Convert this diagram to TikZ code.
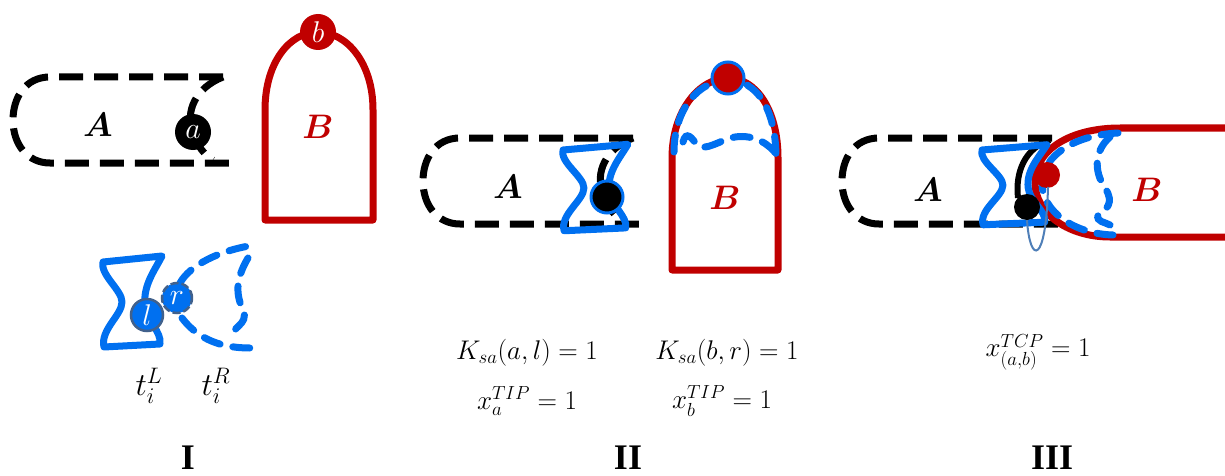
\RequirePackage{fix-cm}
\documentclass[tikz,border=0pt]{standalone}
\usepackage{fontspec}
\newfontfamily\numfont{Liberation Serif}
\usepackage{amsmath,bm}
\definecolor{myblue}{HTML}{0070F0}
\definecolor{myred}{HTML}{C00000}
\definecolor{ringblue}{HTML}{41618C}
\definecolor{loopblue}{HTML}{4F7FB8}
\tikzset{
  Adash/.style={draw=black, line width=7pt, dash pattern=on 24pt off 11pt},
  Bline/.style={draw=myred, line width=7pt, line join=round},
  blueline/.style={draw=myblue, line width=7pt, line join=round, line cap=round},
  bluedash/.style={draw=myblue, line width=7pt, dash pattern=on 17pt off 13pt, line cap=round},
  lbl/.style={font=\fontsize{34}{38}\selectfont},
  dot/.style={circle, inner sep=0pt, text=white, font=\fontsize{30}{32}\selectfont},
  formula/.style={font=\fontsize{27}{30}\selectfont},
  tlab/.style={font=\fontsize{32}{34}\selectfont},
  numeral/.style={font=\numfont\bfseries\fontsize{36}{40}\selectfont},
  hglass/.pic={\draw[blueline] (0,0) -- (59,-6) .. controls (52,8) and (40,23) .. (42,43) .. controls (43,58) and (59,70) .. (57,82) -- (1,85) .. controls (-3,68) and (19,53) .. (19,40) .. controls (19,28) and (-3,13) .. cycle;}
}
\begin{document}
\begin{tikzpicture}[x=1pt,y=-1pt]
\useasboundingbox (0,0) rectangle (1225,476);
\fill[white] (0,0) rectangle (1225,476);

% ================= Panel I =================
\draw[Adash] (223,77) -- (50,77) .. controls (25,77) and (13,98) .. (13,120) .. controls (13,145) and (28,163) .. (50,163) -- (230,163);
\draw[Adash] (223,77) .. controls (195,88) and (185,112) .. (193,132) .. controls (198,148) and (205,155) .. (213,160);
\node[dot, fill=black, minimum size=36pt] (a1) at (193,132) {$a$};
\node[lbl] (A1) at (98,125) {$\boldsymbol{A}$};

\draw[Bline] (265,220) -- (265,110) .. controls (265,62) and (290,32) .. (318,32) .. controls (346,32) and (373,62) .. (373,110) -- (373,220) -- cycle;
\node[dot, fill=myred, minimum size=36pt] (b1) at (318,32) {$b$};
\node[lbl, text=myred] (B1) at (318,127) {$\boldsymbol{B}$};

\pic at (103,262) {hglass};
\draw[bluedash] (180,283) .. controls (190,265) and (220,250) .. (255,245);
\draw[bluedash] (248,258) .. controls (235,280) and (236,295) .. (243,310) .. controls (250,325) and (228,328) .. (236,335);
\draw[bluedash] (182,318) .. controls (195,335) and (215,348) .. (250,348);
\node[dot, fill=myblue, draw=ringblue, line width=2.5pt, minimum size=32pt] (l1) at (147,315) {$l$};
\node[dot, fill=myblue, draw=ringblue, line width=2.5pt, dash pattern=on 8pt off 3pt, minimum size=30pt] (r1) at (177,298) {$r$};
\node[tlab, inner sep=0pt] (tL) at (149,386) {$t_i^L$};
\node[tlab, inner sep=0pt] (tR) at (216,386) {$t_i^R$};

% ================= Panel II =================
\begin{scope}[shift={(410,61)}]
\draw[Adash] (223,77) -- (50,77) .. controls (25,77) and (13,98) .. (13,120) .. controls (13,145) and (28,163) .. (50,163) -- (230,163);
\draw[Adash] (223,77) .. controls (195,88) and (185,112) .. (193,132) .. controls (198,148) and (205,155) .. (213,160);
\end{scope}
\node[lbl] (A2) at (508,187) {$\boldsymbol{A}$};

\draw[Bline] (672,270) -- (672,158) .. controls (672,110) and (700,78) .. (728,78) .. controls (756,78) and (778,110) .. (778,158) -- (778,270) -- cycle;
\draw[bluedash] (674,152) .. controls (674,108) and (700,80) .. (728,80) .. controls (756,80) and (776,108) .. (776,158);
\draw[bluedash] (683,142) .. controls (686,130) and (692,138) .. (697,145) .. controls (705,152) and (720,140) .. (735,137) .. controls (755,134) and (770,145) .. (777,155);
\node[dot, fill=myred, draw=myblue, line width=3pt, minimum size=32pt] (b2) at (728,78) {};
\node[lbl, text=myred] (B2) at (725,198) {$\boldsymbol{B}$};

\pic[xscale=1.1, yscale=0.95] at (563,150) {hglass};
\node[dot, fill=black, draw=myblue, line width=3pt, minimum size=32pt] (a2) at (607,197) {};

\node[formula] (K1) at (527,353) {$K_{sa}(a,l) = 1$};
\node[formula] (K2) at (727,353) {$K_{sa}(b,r) = 1$};
\node[formula] (X1) at (527,401) {$x_a^{TIP} = 1$};
\node[formula] (X2) at (722,401) {$x_b^{TIP} = 1$};

% ================= Panel III =================
\draw[Adash] (1052,138) -- (879,138) .. controls (854,138) and (842,159) .. (842,181) .. controls (842,206) and (857,224) .. (879,224) -- (1059,224);
\draw[black, line width=6pt] (1050,140) .. controls (1025,148) and (1015,172) .. (1018,198);
\node[lbl] (A3) at (928,190) {$\boldsymbol{A}$};

\draw[Bline] (1230,128) -- (1120,128) .. controls (1070,128) and (1035,150) .. (1035,182) .. controls (1035,215) and (1070,237) .. (1110,237) -- (1230,237);
\draw[bluedash] (1118,133) .. controls (1075,135) and (1043,155) .. (1042,183) .. controls (1042,212) and (1075,234) .. (1113,235);
\draw[bluedash] (1110,137) .. controls (1095,150) and (1093,170) .. (1105,188) .. controls (1115,203) and (1106,210) .. (1098,215) .. controls (1096,222) and (1105,222) .. (1110,225);
\node[dot, fill=myred, minimum size=26pt] (b3) at (1047,175) {};
\node[lbl, text=myred] (B3) at (1147,190) {$\boldsymbol{B}$};

\pic[xscale=1.1, yscale=0.88] at (982,150) {hglass};
\node[dot, fill=black, minimum size=26pt] (a3) at (1027,207) {};
\draw[loopblue, line width=2pt] (a3.south) .. controls (1030,265) and (1046,265) .. (1048,187);

\node[formula] (X3) at (1038,352) {$x_{(a,b)}^{TCP} = 1$};

% numerals
\node[numeral] (n1) at (188,458) {I};
\node[numeral] (n2) at (628,458) {II};
\node[numeral] (n3) at (1052,458) {III};
\end{tikzpicture}
\end{document}
